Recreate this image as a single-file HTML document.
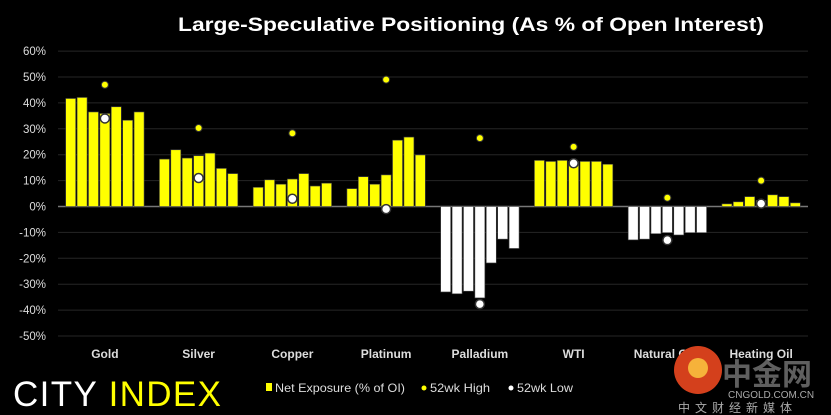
<!DOCTYPE html>
<html><head><meta charset="utf-8"><style>
html,body{margin:0;padding:0;background:#000;width:831px;height:415px;overflow:hidden}
svg{display:block;font-family:"Liberation Sans","Noto Sans CJK SC",sans-serif}
</style></head><body>
<svg id="c" width="831" height="415">
<text x="471" y="31" fill="#fff" font-size="19" font-weight="bold" text-anchor="middle" textLength="586" lengthAdjust="spacingAndGlyphs">Large-Speculative Positioning (As % of Open Interest)</text>
<g id="grid"></g><g id="bars"></g><g id="pts"></g><g id="xl"></g>
<text x="13" y="406" font-size="35" fill="#fff" textLength="208" lengthAdjust="spacing">CITY <tspan fill="#ffff00">INDEX</tspan></text>
<g font-size="12" fill="#ddd">
<rect x="266" y="383" width="6" height="8" fill="#ff0"/>
<text x="275" y="392" textLength="130" lengthAdjust="spacingAndGlyphs">Net Exposure (% of OI)</text>
<circle cx="424" cy="388" r="2.5" fill="#ff0"/>
<text x="430" y="392" textLength="60" lengthAdjust="spacingAndGlyphs">52wk High</text>
<circle cx="511" cy="388" r="2.5" fill="#fff"/>
<text x="517" y="392" textLength="56" lengthAdjust="spacingAndGlyphs">52wk Low</text>
</g>
<g>
<circle cx="698" cy="370" r="24" fill="#d4401c"/>
<circle cx="698" cy="368" r="10" fill="#f6b23a"/>
<text x="722" y="385" font-size="30" font-weight="bold" fill="#777" opacity="0.8">中金网</text>
<text x="728" y="398" font-size="10" fill="#aaa">CNGOLD.COM.CN</text>
<text x="678" y="412" font-size="12" fill="#aaa" letter-spacing="5">中文财经新媒体</text>
</g>
</svg>
<script>
const categories=["Gold","Silver","Copper","Platinum","Palladium","WTI","Natural Gas","Heating Oil"];
const netExposure=[
[41.7,42.1,36.5,35.9,38.5,33.3,36.5],
[18.3,21.9,18.7,19.6,20.6,14.7,12.7],
[7.4,10.3,8.6,10.6,12.7,7.9,9.0],
[6.9,11.5,8.6,12.2,25.6,26.8,19.9],
[-33.0,-33.7,-32.7,-35.3,-21.8,-12.6,-16.2],
[17.8,17.4,17.8,17.4,17.4,17.4,16.3],
[-12.9,-12.6,-10.5,-10.1,-11.0,-10.1,-10.1],
[1.0,1.8,3.8,2.3,4.5,3.8,1.4]];
const high52=[47,30.3,28.3,49,26.4,23,3.4,10];
const low52=[34,11,3,-1,-37.7,16.7,-13,1.1];
const ticks=[60,50,40,30,20,10,0,-10,-20,-30,-40,-50];
const NS="http://www.w3.org/2000/svg";
const X0=58,X1=808,Y0=206.5,PX=2.59;
const y=v=>Y0-v*PX;
const cw=(X1-X0)/categories.length;
const cx=i=>X0+cw*(i+0.5);
function mk(t,a,p){const e=document.createElementNS(NS,t);for(const k in a)e.setAttribute(k,a[k]);p.appendChild(e);return e;}
const G=document.getElementById('grid'),B=document.getElementById('bars'),P=document.getElementById('pts'),XL=document.getElementById('xl');
ticks.forEach(t=>{
const l=mk('line',{x1:X0,x2:X1,y1:y(t),y2:y(t),stroke:t===0?'#777':'#262626','stroke-width':t===0?1.5:1},G);


const tx=mk('text',{x:46,y:y(t)+4,fill:'#ddd','font-size':11.5,'text-anchor':'end'},G);
tx.textContent=t+'%';


});
categories.forEach((c,i)=>{
netExposure[i].forEach((v,j)=>{
const bx=cx(i)+(j-3)*11.4-5;
const r=mk('rect',{x:bx,y:Math.min(y(v),Y0),width:10,height:Math.abs(y(v)-Y0),fill:v>=0?'#ffff00':'#fff',stroke:'#444','stroke-width':0.6},B);


});
const h=mk('circle',{cx:cx(i),cy:y(high52[i]),r:3.5,fill:'#ffff00',stroke:'#333','stroke-width':1},P);


const lw=mk('circle',{cx:cx(i),cy:y(low52[i]),r:4.5,fill:'#fff',stroke:'#333','stroke-width':1.5},P);


const t=mk('text',{x:cx(i),y:358,fill:'#ddd','font-size':12,'font-weight':'bold','text-anchor':'middle'},XL);
t.textContent=c;


});
</script>
</body></html>
